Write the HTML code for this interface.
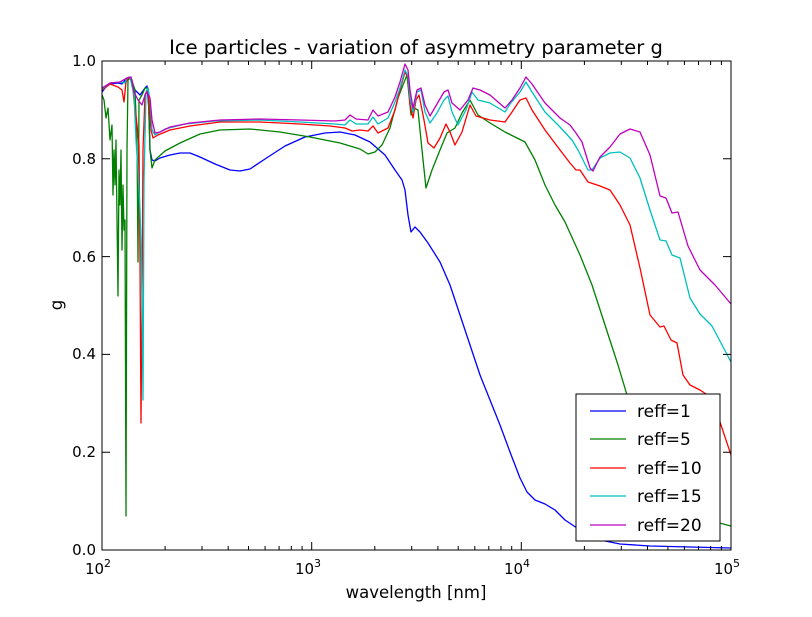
<!DOCTYPE html>
<html><head><style>
body{margin:0;background:#fff;}
svg text{font-family:"DejaVu Sans","Liberation Sans",sans-serif;}
</style></head><body>
<svg width="812" height="612" xmlns="http://www.w3.org/2000/svg">
<rect width="812" height="612" fill="#fff"/>
<defs><clipPath id="c"><rect x="102" y="61" width="629" height="489"/></clipPath></defs>
<g clip-path="url(#c)" fill="none" stroke-width="1.3" stroke-linejoin="round">
<polyline stroke="#0000ff" points="102,92 105,88 110,84 118,83 122,84 127,78 130,78 135,90 140,95 145,88 147,86 149,110 150,150 152,160 155,161 160,158 170,155 180,153 190,153 200,157 215,164 230,170 240,171 250,169 265,159 285,146 305,137 325,133 340,132 355,135 370,142 385,155 395,170 402,180 405,190 408,215 411,232 415,227 420,232 428,243 440,262 450,285 460,315 470,345 480,375 490,400 500,425 510,452 520,478 527,492 535,500 545,504 555,510 565,520 580,530 600,540 620,544 650,546 690,547 731,548"/>
<polyline stroke="#008000" points="102,95 104,100 106,118 108,108 110,140 112,125 113,195 114,150 115,185 116,140 118,296 119,170 120,205 121,150 122,250 123,185 124,230 125,220 126,516 127,150 128,80 131,78 135,90 137,140 138,262 139,100 142,95 145,88 148,88 150,150 152,168 155,160 165,151 180,143 200,134 220,130 250,129 280,132 310,137 340,143 360,149 368,154 375,152 382,145 390,128 398,98 403,85 407,75 411,115 414,108 418,110 422,150 426,188 432,170 440,150 447,133 455,128 462,113 470,100 478,115 490,123 505,132 515,137 525,142 535,160 545,185 555,205 565,222 580,255 592,285 605,325 618,365 630,405 640,440 652,470 665,493 680,508 700,518 731,526"/>
<polyline stroke="#ff0000" points="102,90 110,84 118,87 122,90 124,102 126,82 129,77 132,80 134,100 137,125 139,145 140,260 141,423 142,300 143,150 145,95 147,90 149,100 151,130 153,138 158,135 170,130 190,126 220,122 260,122 300,124 330,126 345,128 352,131 360,130 368,131 373,126 378,133 388,128 395,110 400,90 405,72 408,78 410,105 413,118 416,100 419,95 424,120 428,143 434,148 440,138 446,124 450,132 455,145 462,132 470,105 476,116 490,120 505,122 512,112 520,100 526,98 532,110 545,130 560,150 570,163 576,170 580,170 588,182 600,186 610,190 620,205 630,225 640,268 650,315 660,327 664,326 671,340 677,343 683,375 690,385 700,390 712,398 731,455"/>
<polyline stroke="#00bfbf" points="102,89 110,83 120,82 125,83 127,78 130,77 134,95 136,140 138,170 140,210 141,245 142,300 143,400 144,180 146,92 148,88 150,100 152,130 155,135 165,129 185,124 215,121 260,120 300,122 335,124 345,125 350,120 356,124 368,124 373,117 378,124 388,118 395,102 400,88 405,70 408,76 410,98 413,112 417,92 421,90 425,112 430,123 437,113 444,100 448,96 452,112 458,125 466,110 472,92 478,100 490,103 505,112 510,104 520,92 526,82 532,92 545,112 560,127 572,140 578,150 588,170 592,170 600,158 610,153 620,152 630,158 640,178 650,210 660,240 666,241 672,255 680,258 690,298 700,314 712,326 731,362"/>
<polyline stroke="#bf00bf" points="102,88 110,83 120,82 127,78 131,77 134,92 138,100 142,105 145,95 147,92 150,98 152,120 155,133 160,132 170,127 190,123 220,120 260,119 300,120 335,121 345,120 350,115 356,119 368,120 373,110 378,116 388,112 395,97 400,82 405,64 408,70 410,90 413,108 417,90 421,88 425,105 430,116 437,104 444,92 448,90 452,103 460,110 468,100 473,88 480,90 490,95 505,108 512,100 520,88 526,77 532,84 545,103 560,118 570,125 576,133 582,142 590,168 593,171 600,157 610,147 620,134 630,129 640,132 650,155 660,196 666,198 672,213 678,212 688,246 700,270 715,285 731,304"/>
</g>
<rect x="102" y="61" width="629" height="489" fill="none" stroke="#000" stroke-width="1"/>
<g stroke="#000" stroke-width="1">
<path d="M102 550h8M102 452.2h8M102 354.4h8M102 256.6h8M102 158.8h8M102 61h8M731 550h-8M731 452.2h-8M731 354.4h-8M731 256.6h-8M731 158.8h-8M731 61h-8"/>
<path d="M102 550v-8M311.7 550v-8M521.3 550v-8M731 550v-8M102 61v8M311.7 61v8M521.3 61v8M731 61v8"/>
<path d="M165.1 550v-4M202.0 550v-4M228.2 550v-4M248.5 550v-4M265.1 550v-4M279.1 550v-4M291.3 550v-4M302.1 550v-4
M374.8 550v-4M411.7 550v-4M437.9 550v-4M458.2 550v-4M474.8 550v-4M488.8 550v-4M501.0 550v-4M511.7 550v-4
M584.4 550v-4M621.3 550v-4M647.5 550v-4M667.9 550v-4M684.4 550v-4M698.5 550v-4M710.6 550v-4M721.4 550v-4
M165.1 61v4M202.0 61v4M228.2 61v4M248.5 61v4M265.1 61v4M279.1 61v4M291.3 61v4M302.1 61v4
M374.8 61v4M411.7 61v4M437.9 61v4M458.2 61v4M474.8 61v4M488.8 61v4M501.0 61v4M511.7 61v4
M584.4 61v4M621.3 61v4M647.5 61v4M667.9 61v4M684.4 61v4M698.5 61v4M710.6 61v4M721.4 61v4"/>
</g>
<g font-size="15" fill="#000" text-anchor="end">
<text x="96" y="555">0.0</text><text x="96" y="457">0.2</text><text x="96" y="359">0.4</text><text x="96" y="262">0.6</text><text x="96" y="164">0.8</text><text x="96" y="66">1.0</text>
</g>
<g font-size="15" fill="#000" text-anchor="middle">
<text x="98" y="574">10<tspan font-size="11" dy="-7">2</tspan></text>
<text x="308" y="574">10<tspan font-size="11" dy="-7">3</tspan></text>
<text x="517" y="574">10<tspan font-size="11" dy="-7">4</tspan></text>
<text x="727" y="574">10<tspan font-size="11" dy="-7">5</tspan></text>
<text x="416" y="598" font-size="16.5">wavelength [nm]</text>
<text x="416" y="54" font-size="19.5">Ice particles - variation of asymmetry parameter g</text>
<text transform="translate(62,305) rotate(-90)" font-size="16.5">g</text>
</g>
<rect x="576" y="394" width="144" height="147" fill="#fff" stroke="#000" stroke-width="1"/>
<g stroke-width="1.3">
<line x1="590" y1="411" x2="626" y2="411" stroke="#0000ff"/>
<line x1="590" y1="439" x2="626" y2="439" stroke="#008000"/>
<line x1="590" y1="468" x2="626" y2="468" stroke="#ff0000"/>
<line x1="590" y1="496" x2="626" y2="496" stroke="#00bfbf"/>
<line x1="590" y1="525" x2="626" y2="525" stroke="#bf00bf"/>
</g>
<g font-size="17" fill="#000">
<text x="637" y="417">reff=1</text>
<text x="637" y="445">reff=5</text>
<text x="637" y="474">reff=10</text>
<text x="637" y="502">reff=15</text>
<text x="637" y="531">reff=20</text>
</g>
</svg>
</body></html>
